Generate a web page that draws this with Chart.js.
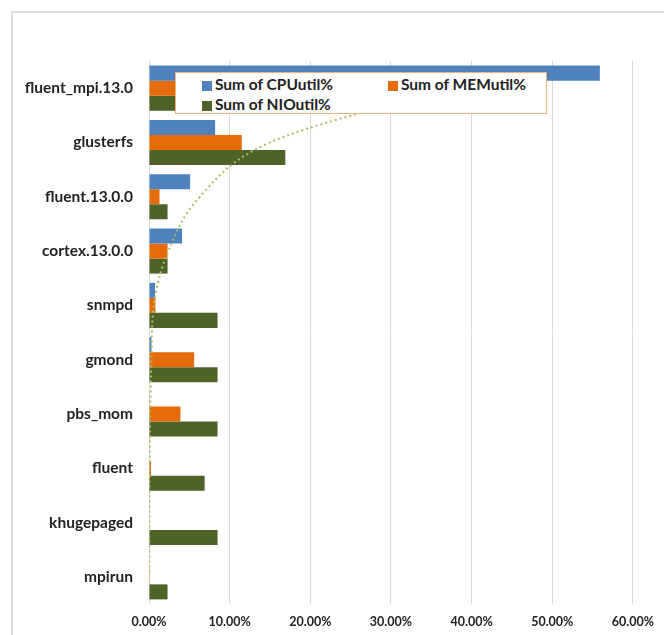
<!DOCTYPE html>
<html>
<head>
<meta charset="utf-8">
<script src="https://cdn.jsdelivr.net/npm/chart.js@4"></script>
<style>
  html, body { margin: 0; padding: 0; background: #fff; }
  #wrap { position: relative; width: 664px; height: 635px; }
  #frame { position: absolute; left: 11px; top: 11px; right: -5px; bottom: -5px;
           border-top: 2px solid #dcdcdc; border-left: 2px solid #dcdcdc; }
  #leyenda { position: absolute; left: 175px; top: 72px; width: 370px; height: 40px;
             background: #fff; border: 1px solid #f0b47a; font: bold 15.5px Lato, sans-serif; color: #222; }
  .item { position: absolute; white-space: nowrap; line-height: 18px; }
  .item span { display: inline-block; width: 10px; height: 10px; margin-right: 3px; vertical-align: -1px; }
</style>
</head>
<body>
<div id="wrap">
  <div id="frame"></div>
  <canvas id="grafico" width="664" height="635"></canvas>
  <div id="leyenda"></div>
</div>
<script>
// Datos
const procesos = ['fluent_mpi.13.0', 'glusterfs', 'fluent.13.0.0', 'cortex.13.0.0', 'snmpd',
                  'gmond', 'pbs_mom', 'fluent', 'khugepaged', 'mpirun'];
const cpuUtil = [55.9, 8.2, 5.1, 4.1, 0.75, 0.3, 0, 0, 0, 0];
const memUtil = [4.0, 11.5, 1.3, 2.3, 0.8, 5.6, 3.9, 0.25, 0, 0.1];
const nioUtil = [9.2, 16.9, 2.3, 2.3, 8.5, 8.5, 8.5, 6.9, 8.5, 2.3];
// linea de tendencia punteada (valores estimados en cada categoria)
const tendencia = [37, 15.0, 6.3, 2.4, 0.6, 0.3, 0.15, 0.08, 0.04, 0.02];
const ticksX = [0, 10, 20, 30, 40, 50, 60];

const series = [
  { nombre: 'Sum of CPUutil%', datos: cpuUtil, color: '#4f81bd' },
  { nombre: 'Sum of MEMutil%', datos: memUtil, color: '#e46c0a' },
  { nombre: 'Sum of NIOutil%', datos: nioUtil, color: '#4f6228' }
];

// Leyenda encima del area de dibujo, como en Excel
const posiciones = [[26, 2], [212, 2], [26, 22]];
series.forEach((s, i) => {
  const d = document.createElement('div');
  d.className = 'item';
  d.style.left = posiciones[i][0] + 'px';
  d.style.top = posiciones[i][1] + 'px';
  d.innerHTML = '<span style="background:' + s.color + '"></span>' + s.nombre;
  document.getElementById('leyenda').appendChild(d);
});

const datasets = series.map(s => ({
  type: 'bar',
  label: s.nombre,
  data: s.datos,
  backgroundColor: s.color,
  borderWidth: 0,
  categoryPercentage: 0.83,
  barPercentage: 1.0,
  order: 1
}));
datasets.push({
  type: 'line',
  label: 'tendencia',
  data: tendencia,
  indexAxis: 'y',
  borderColor: '#a7bf6a',
  borderWidth: 2,
  borderDash: [2, 3],
  pointRadius: 0,
  cubicInterpolationMode: 'monotone',
  fill: false,
  order: 0
});

const ctx = document.getElementById('grafico').getContext('2d');
window.graficoProcesos = new Chart(ctx, {
  type: 'bar',
  data: { labels: procesos, datasets: datasets },
  options: {
    indexAxis: 'y',
    responsive: false,
    animation: false,
    layout: { padding: { top: 61, right: 28, bottom: 0, left: 0 } },
    plugins: { legend: { display: false }, tooltip: { enabled: false } },
    scales: {
      x: {
        min: 0, max: 60,
        afterBuildTicks: sc => { sc.ticks = ticksX.map(v => ({ value: v })); },
        afterFit: sc => { sc.height = 31; },
        grid: { color: '#d9d9d9', drawTicks: false },
        border: { display: false },
        ticks: {
          padding: 10,
          color: '#222',
          font: { family: 'Lato', size: 12.5, weight: 'bold' },
          callback: v => v.toFixed(2) + '%'
        }
      },
      y: {
        afterFit: sc => { sc.width = 149; },
        grid: { display: false, drawTicks: false },
        border: { display: false },
        ticks: {
          padding: 16,
          color: '#222',
          font: { family: 'Lato', size: 15.5, weight: 'bold' }
        }
      }
    }
  }
});
</script>
</body>
</html>
